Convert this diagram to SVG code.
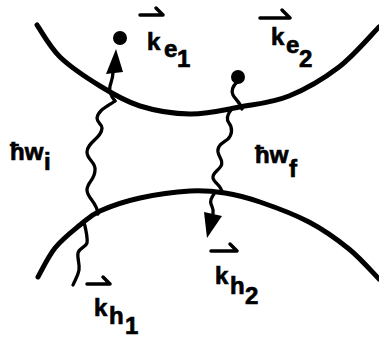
<svg xmlns="http://www.w3.org/2000/svg" width="379" height="338" viewBox="0 0 379 338">
<style>
.band{fill:none;stroke:#000;stroke-width:5;stroke-linecap:round}
.wave{fill:none;stroke:#000;stroke-width:3.3;stroke-linecap:round;stroke-linejoin:round}
.vec{fill:none;stroke:#000;stroke-width:3.5;stroke-linecap:round;stroke-linejoin:round}
.lbl{font-family:"Liberation Sans",Arial,sans-serif;font-weight:bold;font-size:24px;fill:#000;stroke:#000;stroke-width:0.7}
</style>
<rect width="379" height="338" fill="#fff"/>
<g id="bands">
<path class="band" d="M37,25 C40.8,30.3 49.5,46.8 60,57 C70.5,67.2 86.7,77.8 100,86 C113.3,94.2 125,101.3 140,106 C155,110.7 173.3,113.8 190,114 C206.7,114.2 223.5,110 240,107 C256.5,104 272.5,102.7 289,96 C305.5,89.3 324,78.5 339,67 C354,55.5 372.3,33.7 379,27"/>
<path class="band" d="M38,277 C40.8,272.2 48,256.7 55,248 C62,239.3 72.5,231.2 80,225 C87.5,218.8 90,215.5 100,211 C110,206.5 125,201.3 140,198 C155,194.7 175.8,191.8 190,191 C204.2,190.2 213.3,191.2 225,193 C236.7,194.8 246,197.2 260,202 C274,206.8 294.2,214.2 309,222 C323.8,229.8 337.3,239.5 349,249 C360.7,258.5 374,274 379,279"/>
</g>
<g id="connectors">
<path class="wave" d="M115,101 C108,106 98,110 97,118 C97,123 102,124 102,128 C102,138 87,142 87,152 C87,160 96,162 95,170 C95,180 87,182 87,190 C87,198 97,202 98,214"/>
<path class="wave" d="M115,101 C110,95 109,90 110,86 C111,82 113,78 113,72"/>
<polygon points="116,49 106,74 123,72" fill="#000"/>
<path class="wave" d="M84,222 C86,230 88,238 87,243 C86,247 79,248 78,253 C77,258 80,264 79,270 C78,276 75,280 73,285"/>
<path class="wave" d="M237,82 C233,86 231,91 233,95 C235,99 240,102 242,109"/>
<path class="wave" d="M231,110 C227,115 226,119 229,123 C233,128 232,135 228,139 C223,143 217,145 218,152 C219,158 224,161 221,166 C218,171 212,173 213,178 C214,183 221,185 222,192"/>
<path class="wave" d="M214,194 C211,198 210,201 211,204 C212,207 214,209 213,214"/>
<polygon points="204,212 222,216 207,238" fill="#000"/>
</g>
<g id="electron1">
<circle cx="120" cy="38" r="7" fill="#000"/>
<path class="vec" d="M140,15 H163 L156,8"/>
<text class="lbl" x="147" y="50">k</text>
<text class="lbl" x="164" y="57">e</text>
<text class="lbl" x="177" y="67">1</text>
</g>
<g id="electron2">
<circle cx="238" cy="77" r="7" fill="#000"/>
<path class="vec" d="M260,18 H290 L282,10"/>
<text class="lbl" x="271" y="45">k</text>
<text class="lbl" x="286" y="53">e</text>
<text class="lbl" x="299" y="67">2</text>
</g>
<g id="hole1">
<path class="vec" d="M87,284 H110 L103,277"/>
<text class="lbl" x="94" y="316">k</text>
<text class="lbl" x="109" y="324">h</text>
<text class="lbl" x="125" y="334">1</text>
</g>
<g id="hole2">
<path class="vec" d="M211,251 H237 L230,244"/>
<text class="lbl" x="215" y="284">k</text>
<text class="lbl" x="230" y="294">h</text>
<text class="lbl" x="245" y="304">2</text>
</g>
<g id="photon-i">
<text class="lbl" x="10" y="160" font-size="23">ħw</text>
<text class="lbl" x="44" y="170" font-size="21">i</text>
</g>
<g id="photon-f">
<text class="lbl" x="255" y="163" font-size="23">ħw</text>
<text class="lbl" x="289" y="177" font-size="21">f</text>
</g>
</svg>
